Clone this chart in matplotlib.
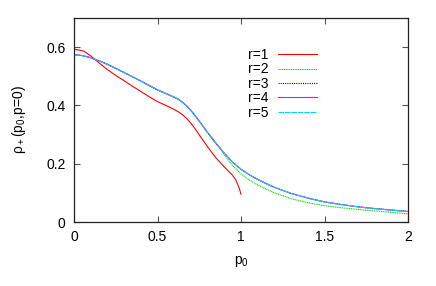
import numpy as np
import matplotlib
matplotlib.use("Agg")
import matplotlib.pyplot as plt

plt.rcParams['font.family'] = ['Liberation Sans', 'DejaVu Sans']
plt.rcParams['mathtext.fontset'] = 'custom'
plt.rcParams['mathtext.rm'] = 'Liberation Sans'
plt.rcParams['mathtext.it'] = 'Liberation Sans'

# r=1 curve (only up to p0 = 1)
p_r1 = [0, 0.03, 0.06, 0.1, 0.15, 0.2, 0.25, 0.3, 0.35, 0.4, 0.45, 0.5, 0.55,
        0.6, 0.625, 0.65, 0.675, 0.7, 0.725, 0.75, 0.8, 0.85, 0.9, 0.95, 0.97,
        0.99, 1.0]
rho_r1 = [0.593, 0.590, 0.586, 0.570, 0.546, 0.523, 0.503, 0.485, 0.466, 0.448,
          0.430, 0.413, 0.400, 0.386, 0.378, 0.368, 0.355, 0.339, 0.320, 0.299,
          0.258, 0.220, 0.189, 0.160, 0.143, 0.115, 0.095]

# r=3,4,5 curves (they lie on top of each other)
p_r3 = [0, 0.05, 0.1, 0.15, 0.2, 0.3, 0.4, 0.5, 0.55, 0.6, 0.625, 0.65, 0.675,
        0.7, 0.725, 0.75, 0.8, 0.85, 0.9, 0.95, 1.0, 1.05, 1.1, 1.15, 1.2, 1.3,
        1.4, 1.5, 1.6, 1.7, 1.8, 1.9, 2.0]
rho_r3 = [0.574, 0.571, 0.564, 0.553, 0.541, 0.513, 0.484, 0.453, 0.441, 0.428,
          0.421, 0.411, 0.398, 0.383, 0.365, 0.346, 0.307, 0.270, 0.236, 0.205,
          0.181, 0.162, 0.146, 0.132, 0.119, 0.098, 0.082, 0.069, 0.060, 0.052,
          0.046, 0.041, 0.036]

# r=2 curve (splits from the others near p0 = 0.88)
p_r2 = [0, 0.05, 0.1, 0.15, 0.2, 0.3, 0.4, 0.5, 0.55, 0.6, 0.625, 0.65, 0.675,
        0.7, 0.725, 0.75, 0.8, 0.85, 0.88, 0.9, 0.95, 1.0, 1.05, 1.1, 1.15, 1.2,
        1.3, 1.4, 1.5, 1.6, 1.7, 1.8, 1.9, 2.0]
rho_r2 = [0.574, 0.571, 0.564, 0.553, 0.541, 0.513, 0.484, 0.453, 0.441, 0.428,
          0.421, 0.411, 0.398, 0.383, 0.365, 0.346, 0.307, 0.270, 0.249, 0.231,
          0.193, 0.165, 0.144, 0.127, 0.113, 0.100, 0.080, 0.066, 0.056, 0.049,
          0.043, 0.038, 0.033, 0.028]

fig = plt.figure(figsize=(4.36, 2.86), dpi=100)
ax = fig.add_axes([74/436, 1-222/286, 334/436, 204/286])

lw = 0.8
ax.plot(p_r1, rho_r1, color='#ff0000', lw=lw, label='r=1')
ax.plot(p_r2, rho_r2, color='#00e000', lw=lw, ls=(0, (1, 0.6)), label='r=2')
ax.plot(p_r3, rho_r3, color='#0000ff', lw=lw, ls=(0, (1, 1)), label='r=3')
ax.plot(p_r3, rho_r3, color='#ff00ff', lw=lw, label='r=4')
ax.plot(p_r3, rho_r3, color='#00d8e8', lw=lw, ls=(0, (5, 0.8)), label='r=5')

ax.set_xlim(0, 2)
ax.set_ylim(0, 0.7)
ax.set_xticks([0, 0.5, 1, 1.5, 2])
ax.set_xticklabels(['0', '0.5', '1', '1.5', '2'])
ax.set_yticks([0, 0.2, 0.4, 0.6])
ax.set_yticklabels(['0', '0.2', '0.4', '0.6'])
ax.tick_params(direction='in', length=4, top=True, right=True, labelsize=10,
               pad=6, color='#555555')
for s in ax.spines.values():
    s.set_color('#222222')
    s.set_linewidth(0.9)

ax.set_xlabel('p$_0$', fontsize=10, labelpad=7)
ax.set_ylabel('ρ$_+$(p$_0$,p=0)', fontsize=10, labelpad=13)

ax.legend(loc='upper right', bbox_to_anchor=(317/436, 1-48/286),
          bbox_transform=fig.transFigure, frameon=False, markerfirst=False,
          fontsize=10, handlelength=2.8, labelspacing=0.03, borderpad=0,
          borderaxespad=0, handletextpad=0.7)

fig.savefig('out.png', dpi=100)
